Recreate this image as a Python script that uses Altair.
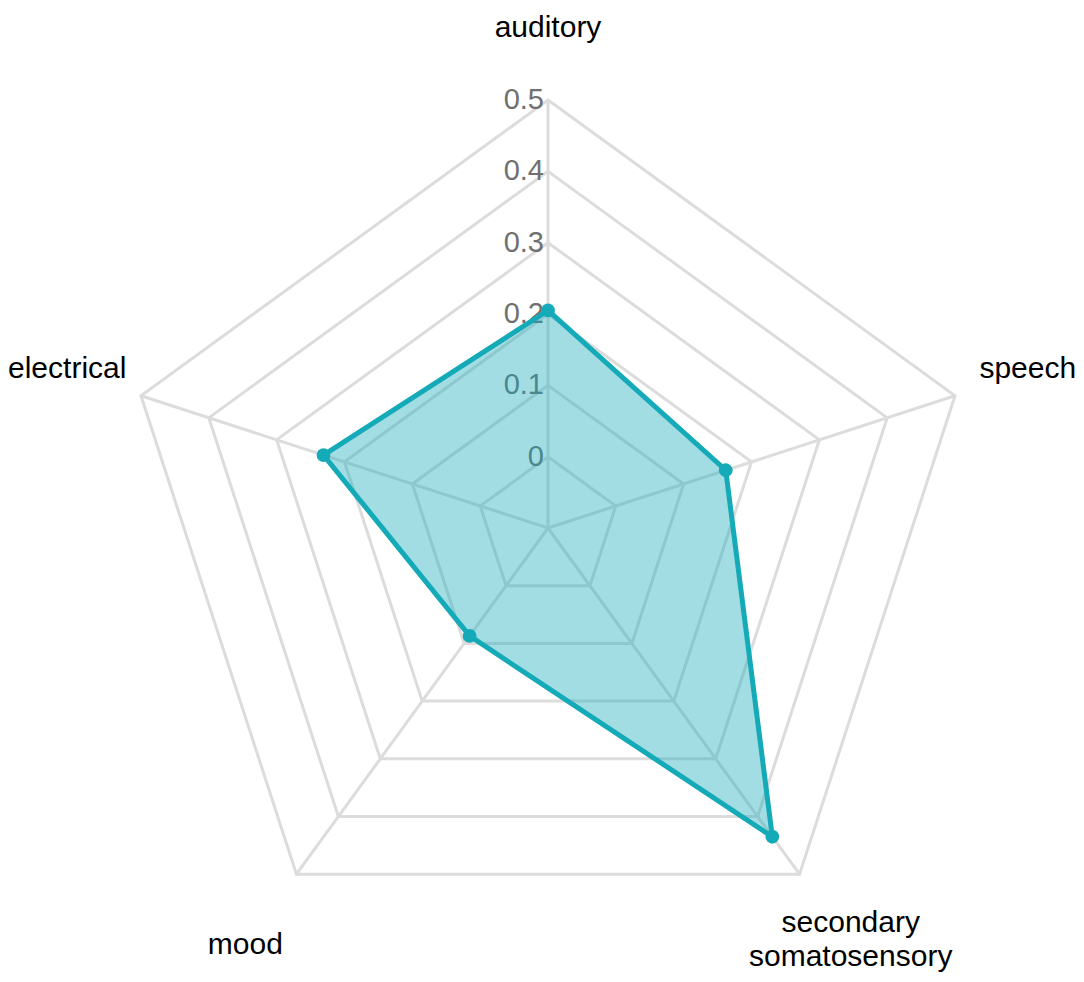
import math
import altair as alt
import pandas as pd

# ---- data ----
categories = ["auditory", "speech", "secondary\nsomatosensory", "mood", "electrical"]
values = [0.205, 0.162, 0.435, 0.087, 0.231]
tick_values = [0, 0.1, 0.2, 0.3, 0.4, 0.5]
tick_labels = ["0", "0.1", "0.2", "0.3", "0.4", "0.5"]

# ---- geometry helpers ----
R_MIN = -0.1        # value at the centre of the web
STEP = 0.1
PX = 71.33          # pixels per step
W, H = 1068, 966
CX, CY = 540, 520   # centre inside the plot area
LABEL_R = 7.22      # radius (in steps) of the category labels

TEAL = "#15aab8"
GRID = "#dcdcdc"
FONT = "Liberation Sans"


def radius(v):
    return (v - R_MIN) / STEP


angles = [90 - 72 * i for i in range(len(categories))]


def xy(r, ang):
    a = math.radians(ang)
    return r * math.cos(a), r * math.sin(a)


grid_rows = []
for lv in tick_values:
    for i, ang in enumerate(angles):
        x, y = xy(radius(lv), ang)
        grid_rows.append({"level": lv, "order": i, "x": x, "y": y})
grid_df = pd.DataFrame(grid_rows)

spoke_rows = []
for i, ang in enumerate(angles):
    x, y = xy(radius(max(tick_values)), ang)
    spoke_rows.append({"x0": 0.0, "y0": 0.0, "x": x, "y": y})
spoke_df = pd.DataFrame(spoke_rows)

tick_df = pd.DataFrame({"x": [0.0] * len(tick_values),
                        "y": [radius(v) for v in tick_values],
                        "label": tick_labels})

poly_rows = []
for i, (c, v, ang) in enumerate(zip(categories, values, angles)):
    x, y = xy(radius(v), ang)
    poly_rows.append({"category": c, "value": v, "order": i, "x": x, "y": y})
poly_df = pd.DataFrame(poly_rows)

lab_rows = []
for c, ang in zip(categories, angles):
    x, y = xy(LABEL_R, ang)
    lab_rows.append({"label": c, "x": x, "y": y})
lab_df = pd.DataFrame(lab_rows)

xs = alt.Scale(domain=[-CX / PX, (W - CX) / PX], nice=False, zero=False)
ys = alt.Scale(domain=[-(H - CY) / PX, CY / PX], nice=False, zero=False)
X = alt.X("x:Q", scale=xs, axis=None)
Y = alt.Y("y:Q", scale=ys, axis=None)

grid = alt.Chart(grid_df).mark_line(
    interpolate="linear-closed", color=GRID, strokeWidth=3
).encode(x=X, y=Y, detail="level:N", order="order:Q")

spokes = alt.Chart(spoke_df).mark_rule(color=GRID, strokeWidth=3).encode(
    x=alt.X("x0:Q", scale=xs, axis=None),
    y=alt.Y("y0:Q", scale=ys, axis=None),
    x2="x:Q", y2="y:Q",
)

ticks = alt.Chart(tick_df).mark_text(
    align="right", baseline="middle", dx=-4, fontSize=29, font=FONT, color="#707070"
).encode(x=X, y=Y, text="label:N")

poly = alt.Chart(poly_df).mark_line(
    interpolate="linear-closed", stroke=TEAL, strokeWidth=5,
    fill=TEAL, fillOpacity=0.4, strokeJoin="miter"
).encode(x=X, y=Y, order="order:Q")

pts = alt.Chart(poly_df).mark_circle(size=190, color=TEAL, opacity=1).encode(x=X, y=Y)

label_style = dict(align="center", baseline="middle", fontSize=30, font=FONT,
                   color="#000000", lineBreak="\n", lineHeight=34)


def label_layer(name, dx=0, dy=0):
    return alt.Chart(lab_df).transform_filter(
        alt.datum.label == name
    ).mark_text(dx=dx, dy=dy, **label_style).encode(x=X, y=Y, text="label:N")


labels = [
    label_layer("auditory", dy=15),
    label_layer("speech", dx=-10),
    label_layer("secondary\nsomatosensory", dy=-22),
    label_layer("mood"),
    label_layer("electrical", dx=9),
]

chart = alt.layer(
    grid, spokes, ticks, poly, pts, *labels
).properties(
    width=W, height=H, padding=0, autosize=alt.AutoSizeParams(type="none"),
    background="white",
).configure_view(stroke=None)

chart.save("out.html", embed_options={"renderer": "svg", "actions": False})
